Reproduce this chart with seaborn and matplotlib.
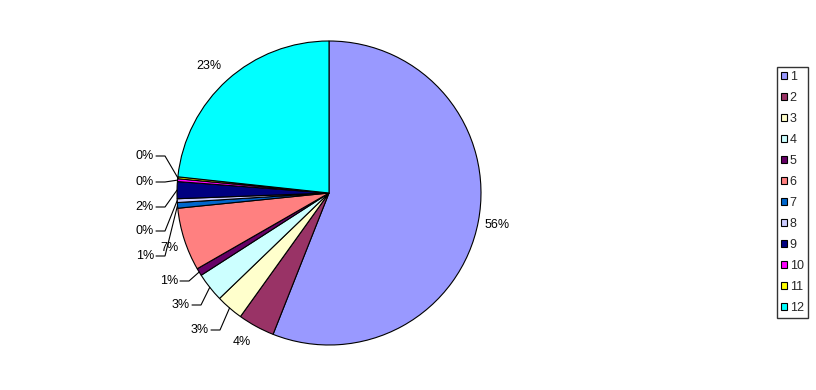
import numpy as np
import matplotlib
matplotlib.use("Agg")
import matplotlib.pyplot as plt
import seaborn as sns

# ---- data ----
categories = ["1", "2", "3", "4", "5", "6", "7", "8", "9", "10", "11", "12"]
values = [56.0, 3.9, 2.9, 3.1, 0.8, 6.7, 0.6, 0.4, 1.8, 0.3, 0.2, 23.3]
colors = ["#9999FF", "#993366", "#FFFFCC", "#CCFFFF", "#660066", "#FF8080",
          "#0066CC", "#CCCCFF", "#000080", "#FF00FF", "#FFFF00", "#00FFFF"]

# ---- layout (pixel coordinates, y from top) ----
W, H = 816, 390
CX, CY, R = 329, 193, 152
# (x, y, align, leader)
label_layout = [
    (497, 225, "center", False),
    (242, 342, "center", False),
    (209, 330, "right", True),
    (190, 305, "right", True),
    (178, 281, "right", True),
    (169, 248, "center", False),
    (154, 256, "right", True),
    (154, 231, "right", True),
    (154, 207, "right", True),
    (154, 182, "right", True),
    (154, 156, "right", True),
    (209, 66, "center", False),
]

sns.set_style("white")
plt.rcParams["font.family"] = ["Liberation Sans", "DejaVu Sans"]

fig = plt.figure(figsize=(W / 100, H / 100), dpi=100)
ax = fig.add_axes([0, 0, 1, 1])
wedges, _ = ax.pie(values, colors=colors, startangle=90, counterclock=False,
                   center=(CX, H - CY), radius=R,
                   wedgeprops=dict(edgecolor="black", linewidth=0.8))
ax.set_xlim(0, W)
ax.set_ylim(0, H)
ax.set_aspect("auto")
ax.axis("off")

total = float(sum(values))
for w, v, (lx, ly, ha, leader) in zip(wedges, values, label_layout):
    pct = v / total * 100
    txt = f"{pct:.0f}%"
    ty = H - ly
    ax.text(lx, ty, txt, ha=ha, va="center", fontsize=9, color="black")
    if leader:
        mid = np.deg2rad((w.theta1 + w.theta2) / 2)
        ex = CX + R * np.cos(mid)
        ey = (H - CY) + R * np.sin(mid)
        x0 = lx + 2
        x1 = x0 + 9
        ax.plot([x0, x1, ex], [ty, ty, ey], color="black", lw=0.8,
                solid_joinstyle="miter")

leg = fig.legend(wedges, categories, loc="upper left",
                 bbox_to_anchor=(777 / W, 1 - 67 / H), borderaxespad=0,
                 fontsize=9, frameon=True, fancybox=False, edgecolor="black",
                 handlelength=0.5, handleheight=0.5, handletextpad=0.2,
                 labelspacing=0.72, borderpad=0.32)
leg.get_frame().set_linewidth(1.0)

fig.savefig("out.png", dpi=100, facecolor="white")
